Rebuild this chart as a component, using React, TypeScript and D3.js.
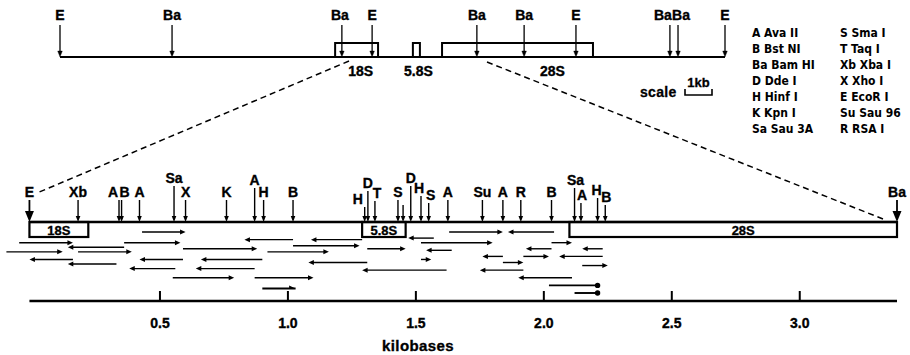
import React from 'react';
import * as d3 from 'd3';

// overview of the repeat unit, kb from the left EcoRI site
const overviewSites: [string, number][] = [
  ['E', 0], ['Ba', 4.15], ['Ba', 10.44], ['E', 11.56], ['Ba', 15.44],
  ['Ba', 17.19], ['E', 19.11], ['Ba', 22.59], ['Ba', 22.89], ['E', 24.63],
];
const overviewGenes: [string, number, number][] = [
  ['18S', 10.19, 11.78], ['5.8S', 13.07, 13.33], ['28S', 14.15, 19.74],
];

// detailed map, kilobases
const mapSites: [string, number][] = [
  ['E', -0.01], ['Xb', 0.18], ['A', 0.34], ['B', 0.35], ['A', 0.42], ['Sa', 0.555],
  ['X', 0.6], ['K', 0.76], ['A', 0.87], ['H', 0.905], ['B', 1.02], ['H', 1.3],
  ['D', 1.3125], ['T', 1.34], ['S', 1.43], ['', 1.45], ['D', 1.48], ['H', 1.52],
  ['S', 1.55], ['A', 1.625], ['Su', 1.76], ['A', 1.84], ['R', 1.91], ['B', 2.03],
  ['Sa', 2.12], ['A', 2.145], ['H', 2.21], ['B', 2.24], ['Ba', 3.38],
];
const mapGenes: [string, number, number][] = [
  ['18S', -0.01, 0.22], ['5.8S', 1.29, 1.46], ['28S', 2.1, 3.38],
];

// sequenced fragments: from kb, to kb, end type (R right, L left, D dot, F half head), lane
const reads: [number, number, string, number][] = [
  [0.43, 0.6, 'R', 0], [1.63, 1.84, 'R', 0], [1.86, 2.04, 'L', 0],
  [0.83, 1.02, 'L', 2.5], [1.09, 1.29, 'L', 2.5], [1.47, 1.57, 'L', 2],
  [-0.05, 0.16, 'R', 3.5], [0.36, 0.58, 'R', 3.5], [1.52, 1.8, 'R', 3.5], [2.03, 2.11, 'R', 3.5],
  [1.02, 1.28, 'R', 4.5], [0.14, 0.36, 'L', 5],
  [1.93, 2.03, 'L', 5.5], [2.15, 2.23, 'L', 5.5], [0.59, 0.88, 'R', 5.5], [1.31, 1.46, 'R', 5.5],
  [1.54, 1.64, 'L', 6],
  [-0.1, 0.12, 'R', 6.5], [0.18, 0.39, 'R', 6.5], [0.92, 1.16, 'R', 6.5],
  [1.76, 1.84, 'L', 8], [1.92, 2.02, 'R', 8], [2.06, 2.23, 'L', 8],
  [-0.01, 0.16, 'L', 9], [0.42, 0.59, 'L', 9], [0.66, 0.9, 'L', 9], [1.52, 1.56, 'R', 9],
  [1.84, 1.92, 'R', 10], [1.08, 1.31, 'L', 10], [0.14, 0.33, 'L', 10.5],
  [2.15, 2.25, 'R', 11],
  [0.38, 0.56, 'L', 12], [0.64, 0.87, 'L', 12], [1.29, 1.62, 'L', 12.5], [1.75, 1.92, 'L', 12.5],
  [0.55, 0.79, 'R', 15], [0.87, 1.1, 'R', 15], [1.9, 2.11, 'L', 15],
  [2.02, 2.21, 'D', 17.5], [0.9, 1.03, 'F', 18.5], [2.12, 2.21, 'D', 20],
];

const axisTicks = [0.5, 1.0, 1.5, 2.0, 2.5, 3.0];

const legendLeft = ['A Ava II', 'B Bst NI', 'Ba Bam HI', 'D Dde I', 'H Hinf I', 'K Kpn I', 'Sa Sau 3A'];
const legendRight = ['S Sma I', 'T Taq I', 'Xb Xba I', 'X Xho I', 'E EcoR I', 'Su Sau 96', 'R RSA I'];

// label placement for the detailed map: [dx, baseline]
const siteLabelPos: [number, number][] = [
  [0, 197], [0, 197], [-6, 197], [3, 197], [0, 197], [0, 183], [0, 197], [0, 197],
  [0, 185], [0, 197], [0, 197], [-7, 204], [0, 188], [2, 198], [0, 197], [0, 202],
  [0, 183], [-2, 193], [2, 200], [0, 197], [0, 197], [0, 197], [0, 197], [0, 197],
  [1, 185], [1, 200], [-1, 195], [1, 202], [0, 197],
];
const overviewLabelDx = [0, 0, -2, 0, 0, 0, 0, -7, 3, 0];
const overviewGeneDx = [4, 2, 35];
const mapGeneDx = [0, 0, 10];

const FONT = '"Liberation Sans", Arial, Helvetica, sans-serif';

const downArrow = (x: number, y0: number, y1: number, hw: number, hl: number, sw: number, key: string) => (
  <g key={key}>
    <line x1={x} x2={x} y1={y0} y2={y1 - hl + 1} stroke="#000" strokeWidth={sw} />
    <polygon points={`${x - hw},${y1 - hl} ${x + hw},${y1 - hl} ${x},${y1}`} fill="#000" />
  </g>
);

const App = () => {
  const width = 910;
  const height = 355;

  const xTop = d3.scaleLinear().domain([0, 24.63]).range([60, 725]);
  const xMap = d3.scaleLinear().domain([0, 3.38]).range([32, 897]);
  const yLane = d3.scaleLinear().domain([0, 20]).range([232, 293]);

  const topY = 57;
  const mapY = 222;
  const boxH = 15;
  const axisY = 301;

  const readMark = (r: [number, number, string, number], i: number) => {
    const [a, b, kind, lane] = r;
    const x1 = xMap(a);
    const x2 = xMap(b);
    const y = yLane(lane);
    const hl = 5.5;
    const hw = 2.5;
    if (kind === 'L') {
      return (
        <g key={'r' + i}>
          <line x1={x1 + hl - 1} x2={x2} y1={y} y2={y} stroke="#000" strokeWidth={1.4} />
          <polygon points={`${x1},${y} ${x1 + hl},${y - hw} ${x1 + hl},${y + hw}`} fill="#000" />
        </g>
      );
    }
    if (kind === 'D') {
      return (
        <g key={'r' + i}>
          <line x1={x1} x2={x2} y1={y} y2={y} stroke="#000" strokeWidth={1.9} />
          <circle cx={x2} cy={y} r={2.7} fill="#000" />
        </g>
      );
    }
    if (kind === 'F') {
      return (
        <g key={'r' + i}>
          <line x1={x1} x2={x2} y1={y} y2={y} stroke="#000" strokeWidth={1.9} />
          <polygon points={`${x2},${y} ${x2 - hl - 1},${y - 3} ${x2 - hl - 1},${y}`} fill="#000" />
        </g>
      );
    }
    return (
      <g key={'r' + i}>
        <line x1={x1} x2={x2 - hl + 1} y1={y} y2={y} stroke="#000" strokeWidth={1.4} />
        <polygon points={`${x2},${y} ${x2 - hl},${y - hw} ${x2 - hl},${y + hw}`} fill="#000" />
      </g>
    );
  };

  return (
    <div>
      <style>{'body{margin:0;background:#fff}'}</style>
      <svg width={width} height={height} style={{ display: 'block', background: '#fff' }}>
        {/* overview map */}
        <g fontFamily={FONT} fontWeight="bold" fontSize={14} textAnchor="middle" stroke="#000" strokeWidth={0.35}>
          {overviewGenes.map(([name, a, b], i) => (
            <g key={'og' + i}>
              <rect x={xTop(a)} y={topY - 14} width={xTop(b) - xTop(a)} height={14}
                fill="#fff" stroke="#000" strokeWidth={2} />
              <text x={(xTop(a) + xTop(b)) / 2 + overviewGeneDx[i]} y={76}>{name}</text>
            </g>
          ))}
          <line x1={xTop(0)} x2={xTop(24.63)} y1={topY} y2={topY} stroke="#000" strokeWidth={2.2} />
          {overviewSites.map(([name, kb], i) => (
            <g key={'os' + i}>
              {downArrow(xTop(kb), 25, topY, 2.3, 6, 1.3, 'oa' + i)}
              <text x={xTop(kb) + overviewLabelDx[i]} y={20}>{name}</text>
            </g>
          ))}
        </g>

        {/* scale bar */}
        <g fontFamily={FONT} fontWeight="bold" fontSize={14} stroke="#000" strokeWidth={0.3}>
          <text x={640} y={97} letterSpacing={0.3}>scale</text>
          <text x={698.5} y={87} textAnchor="middle" fontSize={13}>1kb</text>
          <path d={`M685,89 V95 H${685 + xTop(1) - xTop(0)} V89`} fill="none" stroke="#000" strokeWidth={1.6} />
        </g>

        {/* legend */}
        <g fontFamily='"DejaVu Sans Condensed", "DejaVu Sans", sans-serif' fontSize={12} fontWeight="bold">
          {legendLeft.map((t, i) => (
            <text key={'ll' + i} x={752} y={37 + i * 16}>{t}</text>
          ))}
          {legendRight.map((t, i) => (
            <text key={'lr' + i} x={840} y={37 + i * 16}>{t}</text>
          ))}
        </g>

        {/* expansion lines */}
        <line x1={349} y1={61} x2={37} y2={193} stroke="#000" strokeWidth={1.5} strokeDasharray="6,4" />
        <line x1={487} y1={62} x2={883} y2={219} stroke="#000" strokeWidth={1.5} strokeDasharray="6,4" />

        {/* detailed map */}
        <g fontFamily={FONT} fontWeight="bold" fontSize={13} textAnchor="middle">
          {mapGenes.map(([name, a, b], i) => (
            <g key={'mg' + i}>
              <rect x={xMap(a)} y={mapY} width={xMap(b) - xMap(a)} height={boxH}
                fill="#fff" stroke="#000" strokeWidth={2.2} />
              <text x={(xMap(a) + xMap(b)) / 2 + mapGeneDx[i]} y={mapY + 13} stroke="#000" strokeWidth={0.35}>{name}</text>
            </g>
          ))}
          <line x1={xMap(-0.01)} x2={xMap(3.38)} y1={mapY} y2={mapY} stroke="#000" strokeWidth={2.5} />
        </g>
        <g fontFamily={FONT} fontWeight="bold" fontSize={14} textAnchor="middle">
          {mapSites.map(([name, kb], i) => {
            const [dx, base] = siteLabelPos[i];
            const end = i === 0 || i === mapSites.length - 1;
            return (
              <g key={'ms' + i}>
                {end
                  ? downArrow(xMap(kb), base + 3, mapY, 4.5, 11, 1.8, 'ma' + i)
                  : downArrow(xMap(kb), base + 3, mapY, 2.3, 6, 1.4, 'ma' + i)}
                {name && <text x={xMap(kb) + dx} y={base} stroke="#000" strokeWidth={0.35}>{name}</text>}
              </g>
            );
          })}
        </g>

        {/* sequenced fragments */}
        <g>{reads.map(readMark)}</g>

        {/* kilobase axis */}
        <g fontFamily={FONT} fontWeight="bold" fontSize={14} textAnchor="middle">
          <line x1={xMap(-0.01)} x2={xMap(3.38)} y1={axisY} y2={axisY} stroke="#000" strokeWidth={2.6} />
          {axisTicks.map((t) => (
            <g key={'t' + t}>
              <line x1={xMap(t)} x2={xMap(t)} y1={axisY} y2={axisY - 10} stroke="#000" strokeWidth={2} />
              <text x={xMap(t)} y={axisY + 27} stroke="#000" strokeWidth={0.35}>{d3.format('.1f')(t)}</text>
            </g>
          ))}
          <text x={418} y={351} fontSize={15} letterSpacing={0.4} stroke="#000" strokeWidth={0.35}>kilobases</text>
        </g>
      </svg>
    </div>
  );
};

export default App;
